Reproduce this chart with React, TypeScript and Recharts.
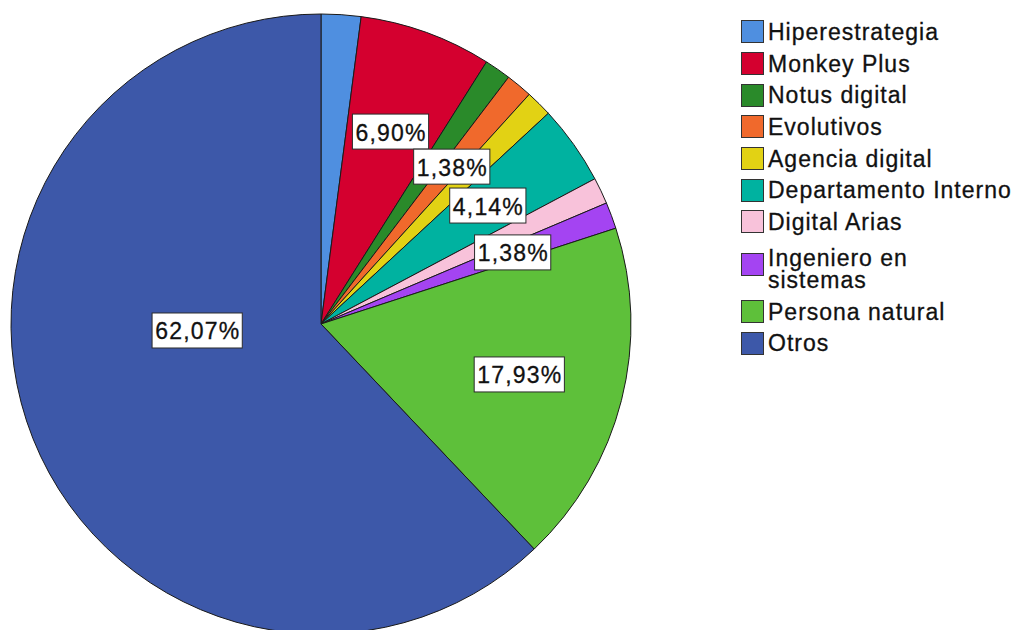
import { PieChart, Pie, Cell, Legend } from 'recharts';

if (typeof document !== 'undefined') document.body.style.margin = '0';

const categories = [
  'Hiperestrategia',
  'Monkey Plus',
  'Notus digital',
  'Evolutivos',
  'Agencia digital',
  'Departamento Interno',
  'Digital Arias',
  'Ingeniero en sistemas',
  'Persona natural',
  'Otros',
];
const counts = [3, 10, 2, 2, 2, 6, 2, 2, 26, 90];
const legendLabels = [
  'Hiperestrategia',
  'Monkey Plus',
  'Notus digital',
  'Evolutivos',
  'Agencia digital',
  'Departamento Interno',
  'Digital Arias',
  'Ingeniero en\nsistemas',
  'Persona natural',
  'Otros',
];
const labeledCategories = ['Monkey Plus', 'Evolutivos', 'Departamento Interno', 'Ingeniero en sistemas', 'Persona natural', 'Otros'];
const colors = ['#4f8fe0', '#d4002f', '#2a8a2a', '#f0692c', '#e2d214', '#00b2a0', '#f8c2da', '#a444f2', '#5ec03a', '#3d58a9'];

const data = categories.map((name, i) => ({ name, value: counts[i] }));

const RAD = Math.PI / 180;
const FONT = 'Arial, "Liberation Sans", sans-serif';

const charW = (c: string) => (c === ',' ? 0.278 : c === '%' ? 0.889 : 0.556);

const renderLabel = (props: any) => {
  const { cx, cy, midAngle, outerRadius, percent, name } = props;
  if (!labeledCategories.includes(name)) return null;
  const big = percent > 0.5;
  const ang = big ? 183 : midAngle;
  const r = outerRadius * (big ? 0.4 : 0.66);
  const x = cx + r * Math.cos(-ang * RAD);
  const y = cy + r * Math.sin(-ang * RAD);
  const text = (percent * 100).toFixed(2).replace('.', ',') + '%';
  const w = text.split('').reduce((s, c) => s + charW(c) * 23 + 1.2, 0) + 5;
  const h = 35;
  return (
    <g>
      <rect x={x - w / 2} y={y - h / 2} width={w} height={h} fill="#fff" stroke="#2b2b2b" strokeWidth={1} />
      <text x={x + 0.6} y={y + 1} textAnchor="middle" dominantBaseline="central" fontSize={23} letterSpacing={1.2} fontFamily={FONT} fill="#111" stroke="#111" strokeWidth={0.3}>
        {text}
      </text>
    </g>
  );
};

const renderLegend = () => (
  <div style={{ fontFamily: FONT, fontSize: 23, letterSpacing: 1, color: '#111', WebkitTextStroke: '0.3px #111' }}>
    {legendLabels.map((label, i) => {
      const multi = label.includes('\n');
      return (
        <div key={label} style={{ display: 'flex', alignItems: 'center', minHeight: 31.7, padding: multi ? '9px 0 5px' : 0 }}>
          <div
            style={{
              width: 21,
              height: 21,
              background: colors[i],
              border: '1px solid #333',
              marginRight: 4,
              flexShrink: 0,
              marginTop: multi ? -8 : 0,
            }}
          />
          <div style={{ whiteSpace: 'pre-line', lineHeight: '22px' }}>{label}</div>
        </div>
      );
    })}
  </div>
);

export default function App() {
  return (
    <div style={{ width: 1016, height: 630, background: '#fff', overflow: 'hidden' }}>
      <PieChart width={1016} height={630} margin={{ top: 0, right: 0, bottom: 0, left: 0 }}>
        <Pie
          data={data}
          dataKey="value"
          nameKey="name"
          cx={321}
          cy={324}
          outerRadius={310}
          startAngle={90}
          endAngle={-270}
          stroke="#1a1a1a"
          strokeWidth={1}
          label={renderLabel}
          labelLine={false}
          isAnimationActive={false}
        >
          {data.map((d, i) => (
            <Cell key={d.name} fill={colors[i]} />
          ))}
        </Pie>
        <Legend content={renderLegend} wrapperStyle={{ position: 'absolute', left: 741, top: 16, width: 275 }} />
      </PieChart>
    </div>
  );
}
